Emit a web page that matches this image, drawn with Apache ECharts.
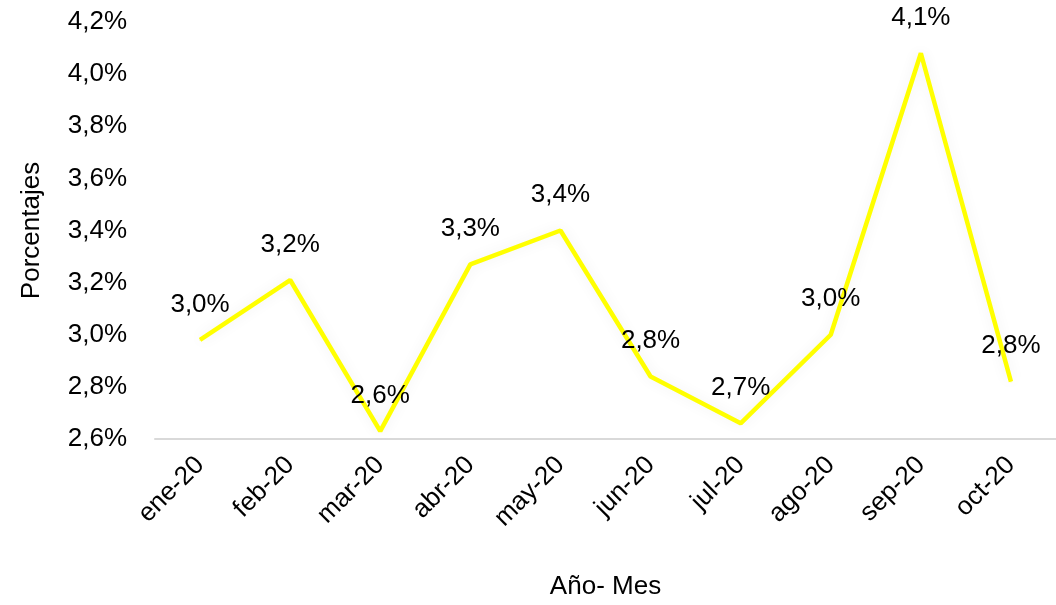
<!DOCTYPE html>
<html>
<head>
<meta charset="utf-8">
<script src="https://cdn.jsdelivr.net/npm/echarts@6/dist/echarts.min.js"></script>
<style>
html,body{margin:0;padding:0;background:#fff;}
#chart{width:1056px;height:605px;}
</style>
</head>
<body>
<div id="chart"></div>
<script>
const categories = ['ene-20','feb-20','mar-20','abr-20','may-20','jun-20','jul-20','ago-20','sep-20','oct-20'];
const values = [2.98, 3.21, 2.63, 3.27, 3.40, 2.84, 2.66, 3.00, 4.08, 2.82];
const yMin = 2.6, yMax = 4.2, yStep = 0.2;
const yTitle = 'Porcentajes';
const xTitle = 'Año- Mes';

const FONT = '"Liberation Sans", Arial, sans-serif';
const FS = 26;
const fmt = v => v.toFixed(1).replace('.', ',') + '%';

const chart = echarts.init(document.getElementById('chart'));
chart.setOption({
  animation: false,
  backgroundColor: '#ffffff',
  grid: { left: 155, top: 22, width: 904, bottom: 165, containLabel: false },
  xAxis: {
    type: 'category',
    data: categories,
    boundaryGap: true,
    name: xTitle,
    nameLocation: 'middle',
    nameGap: 135,
    nameTextStyle: { fontFamily: FONT, fontSize: FS, color: '#000' },
    axisLine: { lineStyle: { color: '#d9d9d9', width: 2 } },
    axisTick: { show: false },
    axisLabel: { rotate: 45, margin: 22, fontFamily: FONT, fontSize: FS, color: '#000' }
  },
  yAxis: {
    type: 'value',
    min: yMin, max: yMax, interval: yStep,
    name: yTitle,
    nameLocation: 'middle',
    nameGap: 110,
    nameTextStyle: { fontFamily: FONT, fontSize: FS, color: '#000' },
    axisLine: { show: false },
    axisTick: { show: false },
    splitLine: { show: false },
    axisLabel: { margin: 28, fontFamily: FONT, fontSize: FS, color: '#000', formatter: fmt }
  },
  series: [{
    type: 'line',
    data: values,
    symbol: 'circle',
    symbolSize: 1,
    showSymbol: true,
    lineStyle: { color: '#ffff00', width: 4.5, shadowColor: 'rgba(0,0,0,0.07)', shadowBlur: 14 },
    itemStyle: { color: '#ffff00' },
    label: {
      show: true, position: 'top', distance: 22,
      fontFamily: FONT, fontSize: FS, color: '#000',
      formatter: p => fmt(p.value)
    }
  }]
});
</script>
</body>
</html>
